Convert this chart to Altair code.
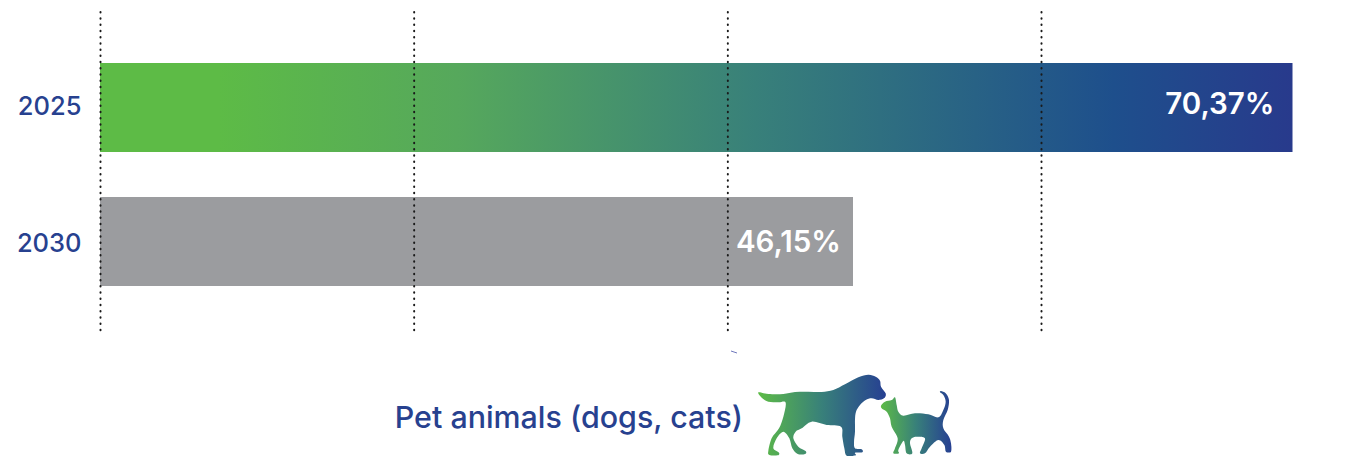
import altair as alt
import pandas as pd

# Chart values
years = ["2025", "2030"]
shares = [70.37, 46.15]
grid_steps = [0, 1, 2, 3]
caption = "Pet animals (dogs, cats)"

# Colours
NAVY = "#27418F"
GREY = "#9B9C9F"
bar_stops = [(0, "#5DBB46"), (0.1, "#5DBB46"), (0.3, "#56A85C"), (0.55, "#38807A"),
             (0.85, "#1E4F8C"), (1, "#283A8C")]
icon_stops = [(0, "#5DBB46"), (0.5, "#38807A"), (1, "#263F92")]

FONT = "Inter"
LEFT, TOP = 100, 12
W, H = 1245, 319


def gradient(stops):
    return alt.LinearGradient(
        gradient="linear", x1=0, x2=1, y1=0, y2=0,
        stops=[alt.GradientStop(offset=o, color=c) for o, c in stops],
    )


# Pictogram outlines, tripled pixel offsets from each icon's own origin
dog_origin = (755, 370)
dog = [(10, 67), (40, 72), (85, 72), (120, 66), (160, 65), (200, 66), (235, 60), (270, 43), (310, 22),
       (340, 14), (362, 20), (375, 32), (378, 50), (392, 70), (388, 84), (370, 90), (350, 85), (332, 90),
       (315, 105), (303, 125), (300, 150), (300, 185), (297, 215), (300, 235), (320, 238), (322, 247),
       (300, 248), (302, 256), (275, 257), (268, 235), (262, 200), (258, 170), (215, 165), (170, 155),
       (140, 175), (122, 185), (115, 205), (130, 230), (152, 243), (150, 252), (128, 252), (112, 235),
       (103, 205), (85, 185), (65, 205), (55, 235), (72, 248), (68, 256), (43, 255), (40, 243), (50, 205),
       (72, 175), (85, 140), (92, 98), (70, 97), (40, 95), (22, 85)]
cat_origin = (875, 385)
cat = [(18, 62), (30, 50), (50, 45), (60, 37), (65, 60), (70, 80), (85, 92), (120, 85), (160, 88), (190, 97),
       (205, 75), (212, 50), (205, 30), (195, 22), (198, 18), (212, 25), (222, 45), (218, 75), (205, 105),
       (205, 130), (222, 155), (228, 175), (228, 200), (213, 200), (208, 180), (190, 165), (165, 185),
       (150, 205), (135, 205), (140, 190), (150, 160), (125, 155), (110, 160), (105, 175), (112, 205),
       (95, 205), (90, 180), (85, 168), (70, 195), (72, 205), (55, 205), (60, 190), (68, 160), (50, 125),
       (45, 100), (35, 80), (22, 72)]


def pictogram(points, origin):
    """Layer one outline as a custom point symbol with a gradient fill."""
    xs, ys = zip(*points)
    cx, cy = (min(xs) + max(xs)) / 2, (min(ys) + max(ys)) / 2
    half = (max(xs) - min(xs)) / 2
    p = [((x - cx) / half, (y - cy) / half) for x, y in points]
    n = len(p)
    # Closed spline through every outline point, so limbs keep their width
    path = f"M{p[0][0]:.3f},{p[0][1]:.3f}"
    for i in range(n):
        a, b, c, d = p[i - 1], p[i], p[(i + 1) % n], p[(i + 2) % n]
        c1 = (b[0] + (c[0] - a[0]) / 6, b[1] + (c[1] - a[1]) / 6)
        c2 = (c[0] - (d[0] - b[0]) / 6, c[1] - (d[1] - b[1]) / 6)
        path += f"C{c1[0]:.3f},{c1[1]:.3f} {c2[0]:.3f},{c2[1]:.3f} {c[0]:.3f},{c[1]:.3f}"
    path += "Z"
    return alt.Chart(alt.Data(values=[{}])).mark_point(
        shape=path, filled=True, fill=gradient(icon_stops), opacity=1, strokeWidth=0,
        size=(max(xs) - min(xs)) ** 2 / 9,
    ).encode(
        x=alt.value(origin[0] + cx / 3 - LEFT),
        y=alt.value(origin[1] + cy / 3 - TOP),
    )


df = pd.DataFrame({
    "year": years,
    "share": shares,
    "label": [f"{v:.2f}%".replace(".", ",") for v in shares],
})

x_share = alt.X(
    "share:Q", axis=None, stack=None,
    scale=alt.Scale(domain=[0, 46.15, 70.37], range=[0, 753, 1192.5], nice=False, zero=False),
)
y_year = alt.Y(
    "year:N", title=None, sort=years,
    scale=alt.Scale(domain=years, range=[28.5, 296.5], paddingInner=0.336, paddingOuter=0.168),
    axis=alt.Axis(
        domain=False, ticks=False, grid=False, labelFont=FONT, labelFontSize=25.5,
        labelColor=NAVY, labelPadding=19, labelFontWeight=500,
        labelOffset={"condition": {"test": "datum.value == '2030'", "value": 2.5}, "value": -0.5},
    ),
)

base = alt.Chart(df).encode(x=x_share, y=y_year)
bar_2025 = base.transform_filter(alt.datum.year == years[0]).mark_bar(
    fill=gradient(bar_stops), cornerRadius=0)
bar_2030 = base.transform_filter(alt.datum.year == years[1]).mark_bar(fill=GREY, cornerRadius=0)

grid = alt.Chart(pd.DataFrame({"step": grid_steps})).mark_rule(
    color="#1A1A1A", strokeWidth=2, strokeDash=[0.5, 5.73], strokeCap="round",
).encode(
    x=alt.X("step:Q", axis=None, scale=alt.Scale(domain=[0, 3], range=[0.5, 941.5], nice=False, zero=False)),
)

value_text = dict(color="white", font=FONT, fontSize=29.5, fontWeight=600, align="right", baseline="middle")
label_2025 = base.transform_filter(alt.datum.year == years[0]).mark_text(
    dx=-18, dy=-2.5, **value_text).encode(text="label:N")
label_2030 = base.transform_filter(alt.datum.year == years[1]).mark_text(
    dx=-12, dy=1, **value_text).encode(text="label:N")

caption_text = alt.Chart(alt.Data(values=[{}])).mark_text(
    text=caption, color=NAVY, font=FONT, fontSize=30.4, fontWeight=500, align="right", baseline="alphabetic",
).encode(x=alt.value(743 - LEFT), y=alt.value(428 - TOP))

# Small stray stroke above the caption
stray = alt.Chart(alt.Data(values=[{}])).mark_rule(color="#6F78BC", strokeWidth=1).encode(
    x=alt.value(731 - LEFT), x2=alt.value(737 - LEFT), y=alt.value(351 - TOP), y2=alt.value(353 - TOP),
)

chart = alt.layer(
    bar_2025, bar_2030, grid, label_2025, label_2030, caption_text, stray,
    pictogram(dog, dog_origin), pictogram(cat, cat_origin),
).resolve_scale(x="independent").properties(
    width=W, height=H,
    autosize=alt.AutoSizeParams(type="none"),
    padding={"left": LEFT, "top": TOP, "right": 0, "bottom": 456 - TOP - H},
    background="white",
).configure_view(stroke=None)

chart.save("out.html", embed_options={"renderer": "svg", "actions": False})
